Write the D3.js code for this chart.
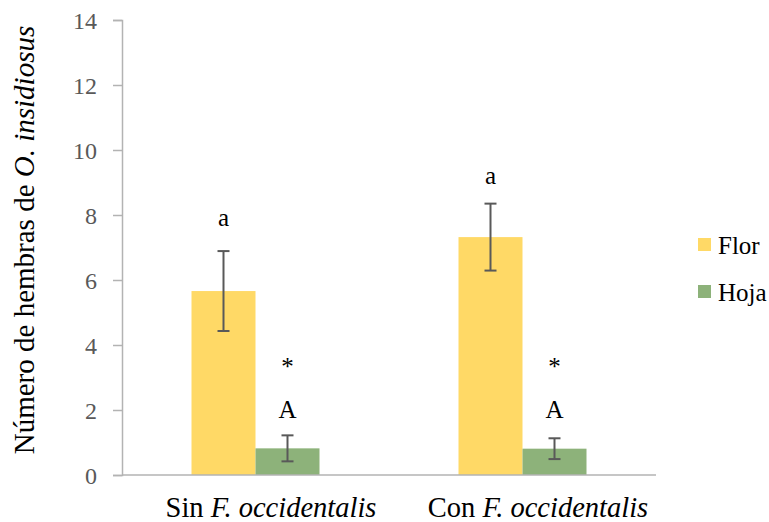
<!DOCTYPE html>
<html>
<head>
<meta charset="utf-8">
<script src="https://cdn.jsdelivr.net/npm/d3@7"></script>
<style>
  html, body { margin: 0; padding: 0; background: #fff; }
  svg { display: block; font-family: "Liberation Serif", "Times New Roman", serif; }
</style>
</head>
<body>
<svg id="chart" width="769" height="522"></svg>
<script>
// Treatments (x categories) and their italic species part
const categories = ["Sin", "Con"];
const speciesName = "F. occidentalis";
// Series: where the females were found
const series = ["Flor", "Hoja"];
const colors = ["#FFD966", "#8DB27A"];
// Mean number of O. insidiosus females per treatment
const florMeans = [5.66, 7.32];
const hojaMeans = [0.82, 0.81];
// Error bar half-widths
const florErr = [1.23, 1.03];
const hojaErr = [0.40, 0.32];
// Significance letters above each bar
const florLetters = ["a", "a"];
const hojaLetters = ["A", "A"];
const hojaMarks = ["*", "*"];
const yTicks = [0, 2, 4, 6, 8, 10, 12, 14];

const FONT = "'Liberation Serif', 'Times New Roman', serif";
const svg = d3.select("#chart");
const plotLeft = 122, plotRight = 656, plotTop = 20, plotBottom = 475;

const x = d3.scaleBand().domain(categories).range([plotLeft, plotRight]).paddingInner(0).paddingOuter(0);
const barW = 64;
const xs = d3.scaleBand().domain(series).range([0, barW * 2]);
const y = d3.scaleLinear().domain([0, 14]).range([plotBottom, plotTop]);

const rows = [];
categories.forEach((c, i) => {
  rows.push({cat: c, s: "Flor", v: florMeans[i], e: florErr[i], letter: florLetters[i], mark: null, idx: i});
  rows.push({cat: c, s: "Hoja", v: hojaMeans[i], e: hojaErr[i], letter: hojaLetters[i], mark: hojaMarks[i], idx: i});
});
const bx = d => x(d.cat) + x.bandwidth() / 2 - barW + xs(d.s);

// Y axis: line and ticks from d3.axisLeft, labels drawn as plain serif text
const yAxis = svg.append("g")
  .attr("transform", `translate(${plotLeft},0)`)
  .call(d3.axisLeft(y).tickValues(yTicks).tickSize(9).tickFormat(""));
yAxis.select(".domain").attr("stroke", "#b3b3b3").attr("stroke-width", 1.5);
yAxis.selectAll(".tick line").attr("stroke", "#b3b3b3").attr("stroke-width", 1.5);
yAxis.selectAll(".tick text").remove();

svg.append("g").selectAll("text").data(yTicks).join("text")
  .attr("x", plotLeft - 25)
  .attr("y", d => y(d))
  .attr("dy", "0.36em")
  .attr("text-anchor", "end")
  .attr("fill", "#595959")
  .style("font-family", FONT)
  .style("font-size", "24px")
  .text(d => d);

// Bars
svg.append("g").selectAll("rect").data(rows).join("rect")
  .attr("x", bx)
  .attr("width", xs.bandwidth())
  .attr("y", d => y(d.v))
  .attr("height", d => y(0) - y(d.v))
  .attr("fill", d => colors[series.indexOf(d.s)]);

// X axis baseline
svg.append("line")
  .attr("x1", plotLeft).attr("x2", plotRight)
  .attr("y1", y(0)).attr("y2", y(0))
  .attr("stroke", "#b3b3b3").attr("stroke-width", 1.5);

// Error bars
const eb = svg.append("g").attr("stroke", "#595959").attr("stroke-width", 2);
rows.forEach(d => {
  const cx = bx(d) + xs.bandwidth() / 2;
  eb.append("line").attr("x1", cx).attr("x2", cx).attr("y1", y(d.v + d.e)).attr("y2", y(d.v - d.e));
  [d.v + d.e, d.v - d.e].forEach(v => {
    eb.append("line").attr("x1", cx - 6).attr("x2", cx + 6).attr("y1", y(v)).attr("y2", y(v));
  });
});

// Significance letters
const lift = {Flor: [25, 19.5], Hoja: [17.5, 20]};
rows.forEach(d => {
  const cx = bx(d) + xs.bandwidth() / 2;
  const base = y(d.v + d.e) - lift[d.s][d.idx];
  svg.append("text").attr("x", cx).attr("y", base)
    .attr("text-anchor", "middle").style("font-size", "25px").attr("fill", "#000")
    .style("font-family", FONT).text(d.letter);
  if (d.mark) {
    svg.append("text").attr("x", cx).attr("y", base - 43)
      .attr("text-anchor", "middle").style("font-size", "25px").attr("fill", "#000")
      .style("font-family", FONT).text(d.mark);
  }
});

// Category labels
categories.forEach(c => {
  const t = svg.append("text")
    .attr("x", x(c) + x.bandwidth() / 2 + 15.5)
    .attr("y", 517)
    .attr("text-anchor", "middle").style("font-size", "28.5px").attr("fill", "#000")
    .style("font-family", FONT);
  t.append("tspan").text(c + " ");
  t.append("tspan").attr("font-style", "italic").text(speciesName);
});

// Y axis title
const yt = svg.append("text")
  .attr("transform", `translate(34,240) rotate(-90)`)
  .attr("text-anchor", "middle").style("font-size", "29px").attr("fill", "#000")
  .style("font-family", FONT);
yt.append("tspan").text("Número de hembras de ");
yt.append("tspan").attr("font-style", "italic").text("O. insidiosus");

// Legend
const lg = svg.append("g").selectAll("g").data(series).join("g")
  .attr("transform", (d, i) => `translate(698,${238 + i * 47})`);
lg.append("rect").attr("width", 13).attr("height", 13).attr("fill", (d, i) => colors[i]);
lg.append("text").attr("x", 20).attr("y", 15.5).style("font-size", "25px").attr("fill", "#000")
  .style("font-family", FONT).text(d => d);
</script>
</body>
</html>
